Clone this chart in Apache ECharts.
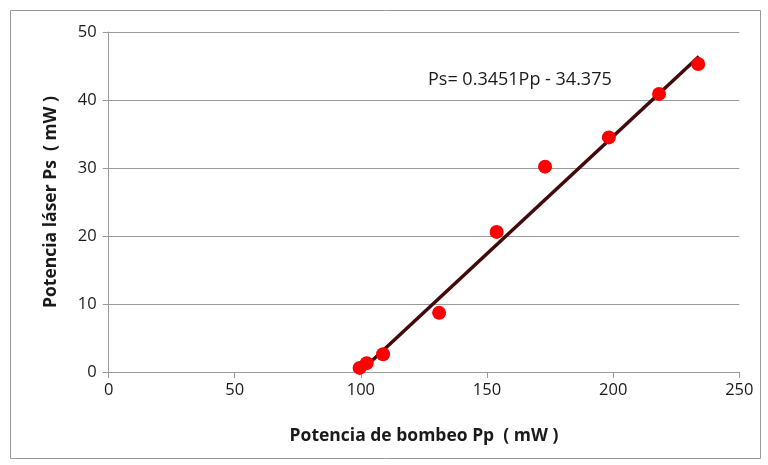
<!DOCTYPE html>
<html>
<head>
<meta charset="utf-8">
<script src="https://cdn.jsdelivr.net/npm/echarts@6/dist/echarts.min.js"></script>
<style>html,body{margin:0;padding:0;background:#fff}#c{width:768px;height:465px}</style>
</head>
<body>
<div id="c"></div>
<script>
const pumpPower = [99.5, 102.3, 108.8, 131.0, 153.8, 173.0, 198.3, 218.2, 233.7];
const laserPower = [0.6, 1.3, 2.6, 8.7, 20.6, 30.2, 34.5, 40.9, 45.3];
const trendX = [99.6, 234.0];
const trendY = [0.0, 46.4];
const equationText = 'Ps= 0.3451Pp - 34.375';
const xTitle = 'Potencia de bombeo Pp  ( mW )';
const yTitle = 'Potencia láser Ps  ( mW )';

const font = '"Open Sans", "Liberation Sans", sans-serif';
const chart = echarts.init(document.getElementById('c'));
chart.setOption({
  animation: false,
  backgroundColor: '#fff',
  grid: { left: 108.6, right: 28.7, top: 32, bottom: 93 },
  graphic: [
    { type: 'rect', shape: { x: 10.5, y: 10.5, width: 750, height: 448 },
      style: { fill: 'none', stroke: '#9a9a9a', lineWidth: 1 } },
    { type: 'text', left: 428, top: 71,
      style: { text: equationText, font: '18px ' + font, fill: '#1a1a1a' } }
  ],
  xAxis: {
    type: 'value', min: 0, max: 250, interval: 50,
    name: xTitle, nameLocation: 'middle', nameGap: 55,
    nameTextStyle: { fontFamily: font, fontWeight: 'bold', fontSize: 17.5, color: '#1a1a1a' },
    axisLine: { show: true, onZero: false, lineStyle: { color: '#9a9a9a', width: 1 } },
    axisTick: { show: true, inside: false, length: 6, lineStyle: { color: '#9a9a9a' } },
    axisLabel: { fontFamily: font, fontSize: 16.5, color: '#1a1a1a', margin: 10 },
    splitLine: { show: false }
  },
  yAxis: {
    type: 'value', min: 0, max: 50, interval: 10,
    name: yTitle, nameLocation: 'middle', nameGap: 49,
    nameTextStyle: { fontFamily: font, fontWeight: 'bold', fontSize: 17.5, color: '#1a1a1a' },
    axisLine: { show: true, lineStyle: { color: '#9a9a9a', width: 1 } },
    axisTick: { show: true, inside: false, length: 6, lineStyle: { color: '#9a9a9a' } },
    axisLabel: { fontFamily: font, fontSize: 16.5, color: '#1a1a1a', margin: 12 },
    splitLine: { show: true, lineStyle: { color: '#9a9a9a', width: 1 } }
  },
  series: [
    {
      type: 'line', data: trendX.map((x, i) => [x, trendY[i]]),
      showSymbol: false, symbol: 'none', z: 2,
      lineStyle: { color: '#420a0a', width: 3.5 }
    },
    {
      type: 'scatter', data: pumpPower.map((x, i) => [x, laserPower[i]]),
      symbol: 'circle', symbolSize: 14, z: 3,
      itemStyle: { color: '#ff0000', opacity: 1 }
    }
  ]
});
</script>
</body>
</html>
